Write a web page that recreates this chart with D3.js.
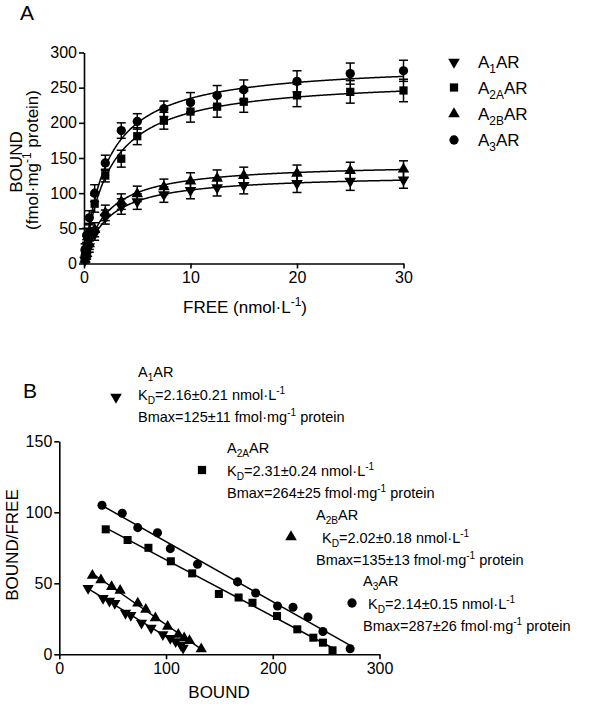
<!DOCTYPE html>
<html><head><meta charset="utf-8">
<script src="https://cdn.jsdelivr.net/npm/d3@7"></script>
<style>
body{margin:0;background:#fff;}
text{font-family:"Liberation Sans",Arial,sans-serif;fill:#000;}
</style>
</head><body>
<svg id="c" width="590" height="704"></svg>
<script>
// ---------- Panel A data: saturation binding ----------
const freeConc = [0.1, 0.25, 0.5, 1, 2, 3.5, 5, 7.5, 10, 12.5, 15, 20, 25, 30];
const boundA1  = [5, 12, 24, 42, 66, 81, 88, 98, 104, 108, 111, 114, 117, 119];
const errA1    = [4, 6, 8, 9, 10, 11, 11, 11, 12, 12, 12, 13, 13, 12];
const boundA2A = [12, 25, 45, 85, 125, 149, 181, 203, 216, 223, 230, 239, 244, 246];
const errA2A   = [6, 9, 12, 12, 9, 12, 12, 12, 15, 15, 15, 16, 16, 16];
const boundA2B = [6, 14, 28, 48, 72, 88, 99, 109, 117, 121, 125, 128, 132, 134];
const errA2B   = [4, 6, 8, 10, 11, 11, 11, 11, 12, 12, 12, 12, 12, 12];
const boundA3  = [20, 40, 65, 100, 143, 189, 202, 220, 229, 239, 247, 259, 270, 274];
const errA3    = [8, 10, 10, 12, 11, 11, 11, 11, 14, 14, 14, 15, 15, 15];
// one-site fit parameters (Bmax, KD) used for the curves
const fitBmax = [127, 264, 143, 285];
const fitKd   = [2.16, 2.31, 2.1, 2.14];
const xTicksA = [0, 10, 20, 30];
const yTicksA = [0, 50, 100, 150, 200, 250, 300];

// ---------- Panel B data: Scatchard ----------
const scatBoundA1  = [27, 41, 47, 52, 62, 67, 77, 86, 97, 104, 109, 114, 116];
const scatRatioA1  = [46.5, 39.5, 37.5, 36, 29, 27.5, 22, 18.5, 14, 11.3, 9, 6.5, 4.5];
const scatBoundA2A = [43.5, 64, 83.5, 104.5, 124.5, 149.5, 168, 181, 204, 223, 238, 247, 256];
const scatRatioA2A = [88, 80.5, 75, 65.5, 57, 42.5, 40, 36.3, 27, 17.6, 11.7, 8.2, 2.8];
const scatBoundA2B = [31, 39, 49, 57, 73.5, 81, 90, 101.5, 111.5, 117, 122, 133];
const scatRatioA2B = [55.5, 52.3, 47.5, 45, 36, 31.5, 25.5, 19.5, 14, 11.5, 9.6, 3.8];
const scatBoundA3  = [40, 59, 73.5, 92, 104, 129.5, 167, 184, 204.5, 219, 233, 247, 272.5];
const scatRatioA3  = [105, 99.3, 89.2, 85.6, 74.4, 63.4, 51, 43.2, 34, 33.1, 26.3, 16, 3.9];
const xTicksB = [0, 100, 200, 300];
const yTicksB = [0, 50, 100, 150];

// series labels & annotation texts
const subLabels = ["1", "2A", "2B", "3"];
const kdText    = ["2.16±0.21", "2.31±0.24", "2.02±0.18", "2.14±0.15"];
const bmaxText  = ["125±11", "264±25", "135±13", "287±26"];

const svg = d3.select("#c");
const FS = 16;

const shapes = [
  {type: d3.symbolTriangle, size: 58, rot: 180},
  {type: d3.symbolSquare, size: 68, rot: 0},
  {type: d3.symbolTriangle, size: 58, rot: 0},
  {type: d3.symbolCircle, size: 68, rot: 0}
];
function marker(g, i, x, y, scale) {
  const s = shapes[i];
  g.append("path")
    .attr("d", d3.symbol().type(s.type).size(s.size * (scale || 1))())
    .attr("transform", `translate(${x},${y}) rotate(${s.rot})`)
    .attr("fill", "#000");
}
// rich text: parts = [[text, mode]] mode: "", "sub", "sup"
function rich(g, x, y, parts, fs, anchor, transform) {
  const t = g.append("text").attr("font-size", fs).attr("text-anchor", anchor || "start");
  if (transform) t.attr("transform", transform); else t.attr("x", x).attr("y", y);
  let cur = 0;
  parts.forEach(([s, m]) => {
    const ts = t.append("tspan").text(s);
    let target = 0;
    if (m === "sub") { ts.attr("font-size", fs * 0.7); target = fs * 0.3; }
    else if (m === "sup") { ts.attr("font-size", fs * 0.7); target = -fs * 0.4; }
    if (target - cur !== 0) ts.attr("dy", target - cur);
    cur = target;
  });
  return t;
}
function styleAxis(g) {
  g.selectAll("path.domain").attr("stroke", "#000").attr("stroke-width", 1.6);
  g.selectAll(".tick line").attr("stroke", "#000").attr("stroke-width", 1.6);
  g.selectAll(".tick text").attr("font-size", FS).attr("font-family", '"Liberation Sans",Arial,sans-serif').attr("fill", "#000");
}

// ================= Panel A =================
const xA = d3.scaleLinear().domain([0, 30]).range([84, 403.5]);
const yA = d3.scaleLinear().domain([0, 300]).range([263.5, 52.5]);
const gA = svg.append("g");

const boundSets = [boundA1, boundA2A, boundA2B, boundA3];
const errSets = [errA1, errA2A, errA2B, errA3];

// curves
const curveX = d3.range(0, 30.001, 0.05);
const lineA = d3.line().x(d => xA(d[0])).y(d => yA(d[1]));
fitBmax.forEach((bm, i) => {
  const pts = curveX.map(x => [x, bm * x / (fitKd[i] + x)]);
  gA.append("path").attr("d", lineA(pts)).attr("fill", "none").attr("stroke", "#000").attr("stroke-width", 1.5);
});
// error bars and markers
boundSets.forEach((vals, i) => {
  vals.forEach((v, j) => {
    const x = xA(freeConc[j]), e = errSets[i][j];
    const y1 = yA(v - e), y2 = yA(v + e);
    gA.append("line").attr("x1", x).attr("x2", x).attr("y1", y1).attr("y2", y2).attr("stroke", "#000").attr("stroke-width", 1.5);
    [y1, y2].forEach(yy => gA.append("line").attr("x1", x - 4.5).attr("x2", x + 4.5).attr("y1", yy).attr("y2", yy).attr("stroke", "#000").attr("stroke-width", 1.5));
  });
});
boundSets.forEach((vals, i) => {
  vals.forEach((v, j) => marker(gA, i, xA(freeConc[j]), yA(v)));
});

// axes
const axAx = gA.append("g").attr("transform", `translate(0,${yA(0)})`)
  .call(d3.axisBottom(xA).tickValues(xTicksA).tickSize(5).tickSizeOuter(0).tickPadding(3).tickFormat(d3.format("d")));
styleAxis(axAx);
const axAy = gA.append("g").attr("transform", `translate(${xA(0)},0)`)
  .call(d3.axisLeft(yA).tickValues(yTicksA).tickSize(5).tickSizeOuter(0).tickPadding(2).tickFormat(d3.format("d")));
styleAxis(axAy);

// titles
svg.append("text").attr("x", 20).attr("y", 20).attr("font-size", 21).text("A");
rich(gA, 0, 0, [["BOUND", ""]], 17, "middle", "translate(22,162) rotate(-90)");
rich(gA, 0, 0, [["(fmol·mg", ""], ["-1", "sup"], [" protein)", ""]], 17, "middle", "translate(37.5,160) rotate(-90)");
rich(gA, 245, 313, [["FREE (nmol·L", ""], ["-1", "sup"], [")", ""]], 17, "middle");

// legend
const legY = [62, 87.5, 114, 140];
legY.forEach((y, i) => {
  marker(gA, i, 454, y, 1);
  rich(gA, 478, y + 6, [["A", ""], [subLabels[i], "sub"], ["AR", ""]], 17, "start");
});

// ================= Panel B =================
const xB = d3.scaleLinear().domain([0, 300]).range([59.3, 379.5]);
const yB = d3.scaleLinear().domain([0, 150]).range([654.3, 441.3]);
const gB = svg.append("g");
const sbSets = [scatBoundA1, scatBoundA2A, scatBoundA2B, scatBoundA3];
const srSets = [scatRatioA1, scatRatioA2A, scatRatioA2B, scatRatioA3];

// regression lines
sbSets.forEach((xs, i) => {
  const ys = srSets[i];
  const mx = d3.mean(xs), my = d3.mean(ys);
  const slope = d3.sum(xs.map((x, k) => (x - mx) * (ys[k] - my))) / d3.sum(xs.map(x => (x - mx) ** 2));
  const icp = my - slope * mx;
  const x0 = d3.min(xs), x1 = d3.max(xs);
  gB.append("line").attr("x1", xB(x0)).attr("y1", yB(slope * x0 + icp))
    .attr("x2", xB(x1)).attr("y2", yB(slope * x1 + icp))
    .attr("stroke", "#000").attr("stroke-width", 1.5);
});
sbSets.forEach((xs, i) => {
  xs.forEach((x, k) => marker(gB, i, xB(x), yB(srSets[i][k]), 0.95));
});

const axBx = gB.append("g").attr("transform", `translate(0,${yB(0)})`)
  .call(d3.axisBottom(xB).tickValues(xTicksB).tickSize(5).tickSizeOuter(0).tickPadding(3).tickFormat(d3.format("d")));
styleAxis(axBx);
const axBy = gB.append("g").attr("transform", `translate(${xB(0)},0)`)
  .call(d3.axisLeft(yB).tickValues(yTicksB).tickSize(5).tickSizeOuter(0).tickPadding(2).tickFormat(d3.format("d")));
styleAxis(axBy);

svg.append("text").attr("x", 23).attr("y", 398).attr("font-size", 21).text("B");
rich(gB, 0, 0, [["BOUND/FREE", ""]], 17, "middle", "translate(18,545) rotate(-90)");
rich(gB, 219, 698, [["BOUND", ""]], 17, "middle");

// annotations
const ann = [
  {mx: 116, my: 397, tx: 138, kx: 138, y0: 377},
  {mx: 202, my: 470, tx: 227, kx: 227, y0: 453},
  {mx: 291, my: 537, tx: 316, kx: 322, y0: 520},
  {mx: 352, my: 603, tx: 363, kx: 368, y0: 586}
];
ann.forEach((a, i) => {
  marker(gB, i, a.mx, a.my, 1);
  rich(gB, a.tx, a.y0, [["A", ""], [subLabels[i], "sub"], ["AR", ""]], 14.5, "start");
  rich(gB, a.kx, a.y0 + 22.5, [["K", ""], ["D", "sub"], ["=" + kdText[i] + " nmol·L", ""], ["-1", "sup"]], 14.5, "start");
  rich(gB, a.tx, a.y0 + 45, [["Bmax=" + bmaxText[i] + " fmol·mg", ""], ["-1", "sup"], [" protein", ""]], 14.5, "start");
});
</script>
</body></html>
